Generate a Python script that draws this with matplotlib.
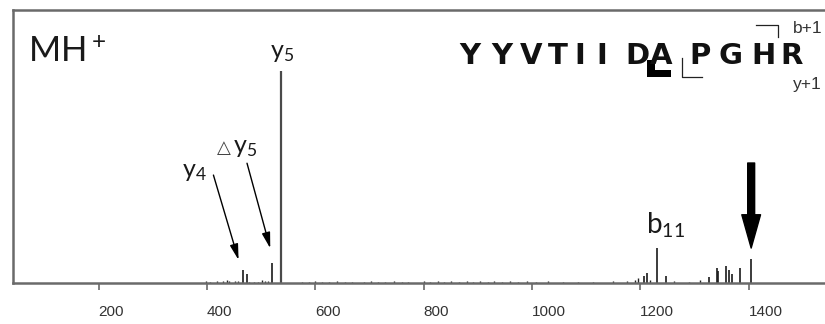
import matplotlib
matplotlib.use("Agg")
import matplotlib.pyplot as plt
import matplotlib.transforms as mtransforms
from matplotlib.patches import Rectangle
from matplotlib.lines import Line2D

# ---------------- data ----------------
main_mz = [466.3, 474.0, 519.3, 537.3, 1206.0, 1212.0, 1230.6, 1248.0,
           1326.0, 1341.0, 1344.0, 1359.0, 1363.0, 1369.0, 1384.0, 1404.7]
main_int = [6.1, 4.3, 9.5, 100.0, 3.1, 4.7, 16.5, 3.1,
            2.6, 7.3, 5.5, 8.0, 6.1, 4.2, 7.3, 11.3]

noise_mz = [398, 405, 418, 430, 437, 441, 452, 458, 478, 486, 495, 501, 508, 513,
            575, 588, 600, 612, 625, 640, 655, 668, 690, 702, 715, 728, 745, 760,
            772, 800, 812, 826, 838, 850, 866, 880, 892, 905, 918, 930, 945, 960,
            975, 990, 1008, 1030, 1058, 1085, 1112, 1150, 1175, 1190, 1196, 1218,
            1262, 1290, 1310]
noise_int = [0.9, 0.6, 0.8, 0.9, 1.2, 1.0, 0.8, 1.0, 0.7, 0.6, 0.6, 1.4, 1.1, 1.0,
             0.6, 0.7, 0.9, 0.6, 0.7, 0.8, 0.6, 0.7, 0.6, 0.9, 0.6, 0.7, 0.8, 0.6,
             0.7, 1.0, 0.7, 0.8, 0.6, 0.9, 0.7, 1.1, 0.7, 0.9, 0.6, 0.8, 0.7, 1.0,
             0.6, 0.8, 0.6, 0.9, 0.6, 0.7, 0.6, 0.8, 0.9, 1.6, 2.2, 1.5,
             0.8, 0.7, 1.2]

xticks = [200, 400, 600, 800, 1000, 1200, 1400]
xtick_labels = ["200", "400", "600", "800", "1000", "1200", "1400"]

peptide = list("YYVTIIDAPGHR")

# ---------------- figure ----------------
plt.rcParams["mathtext.fontset"] = "custom"
plt.rcParams["mathtext.rm"] = "Lato"
plt.rcParams["mathtext.default"] = "rm"

W, H = 825, 324
fig = plt.figure(figsize=(W / 100, H / 100), dpi=100)
ax = fig.add_axes([13 / W, 41 / H, 815 / W, 273 / H])

XMIN, XMAX = 42, 42 + 815 / 0.5417
ax.set_xlim(XMIN, XMAX)
ax.set_ylim(0, 129)

spine_c = "#6a6a6a"
for s in ["left", "top", "bottom"]:
    ax.spines[s].set_color(spine_c)
    ax.spines[s].set_linewidth(1.8)
ax.spines["right"].set_visible(False)

ax.vlines(noise_mz, 0, noise_int, color="#222222", lw=1.0)
for mz, it in zip(main_mz, main_int):
    if it >= 99:
        ax.vlines(mz, 0, it, color="#4a4a4a", lw=1.6)
    else:
        ax.vlines(mz, 0, it, color="#1a1a1a", lw=1.2)

ax.set_yticks([])
ax.set_xticks(xticks)
ax.set_xticklabels(xtick_labels, fontsize=11, color="#333333",
                   family="Liberation Sans", ha="left")
ax.tick_params(axis="x", direction="out", length=5, width=1.2, color=spine_c, pad=11)

lab_font = dict(family="Lato", color="#1a1a1a")

# peak labels
ax.text(517, 106.5, r"y$_5$", fontsize=18, ha="left", va="baseline", **lab_font)
ax.text(354, 50.0, r"y$_4$", fontsize=18, ha="left", va="baseline", **lab_font)
ax.text(418, 61.5, "\u25b3", fontsize=13, ha="left", va="baseline",
        family="DejaVu Sans", color="#444444")
ax.text(449, 61.5, r"y$_5$", fontsize=18, ha="left", va="baseline", **lab_font)
ax.text(1211, 23.5, r"b$_{11}$", fontsize=20, ha="left", va="baseline", **lab_font)

# annotation arrows
arr = dict(arrowstyle="-|>,head_length=0.95,head_width=0.25", color="black",
           lw=1.0, shrinkA=0, shrinkB=0, mutation_scale=10)
ax.annotate("", xy=(458.4, 10.9), xytext=(412, 51.0), arrowprops=arr)
ax.annotate("", xy=(516.9, 16.4), xytext=(474, 56.6), arrowprops=arr)
ax.annotate("", xy=(1404.7, 16.5), xytext=(1404.7, 56.7),
            arrowprops=dict(arrowstyle="simple,head_length=2.4,head_width=1.35,tail_width=0.5",
                            color="black", shrinkA=0, shrinkB=0, mutation_scale=10))

# ---------------- figure-pixel annotations ----------------
T = mtransforms.IdentityTransform()


def px(x, y):
    return x, H - y


fig.text(*px(28, 62), r"MH$^+$", fontsize=25, ha="left", va="baseline",
         transform=T, **lab_font)

letter_x = [470, 501.7, 530.8, 558, 580, 601.7, 637, 660.7, 700, 730.7, 763, 791.7]
for ch, lx in zip(peptide, letter_x):
    fig.text(*px(lx, 63.5), ch, fontsize=21, fontweight="bold", ha="center",
             va="baseline", family="DejaVu Sans", color="#111111", transform=T)

# thick L bracket (D|A)
fig.add_artist(Rectangle(px(646.7, 76.7), 8.3, 16.7, transform=T, color="black", lw=0))
fig.add_artist(Rectangle(px(646.7, 76.7), 24, 6.5, transform=T, color="black", lw=0))
# thin L bracket (A|P)
fig.add_artist(Line2D([681.7, 681.7, 701.7], [H - 58, H - 77, H - 77], transform=T,
                      color="#222222", lw=0.9))
# top bracket (H|R)
fig.add_artist(Line2D([756, 778, 778], [H - 25, H - 25, H - 37], transform=T,
                      color="#222222", lw=0.9))
fig.text(*px(793, 33), "b+1", fontsize=12.5, ha="left", va="baseline",
         family="Liberation Sans", color="#333333", transform=T)
fig.text(*px(793, 89), "y+1", fontsize=12.5, ha="left", va="baseline",
         family="Liberation Sans", color="#333333", transform=T)

fig.savefig("out.png", dpi=100)
